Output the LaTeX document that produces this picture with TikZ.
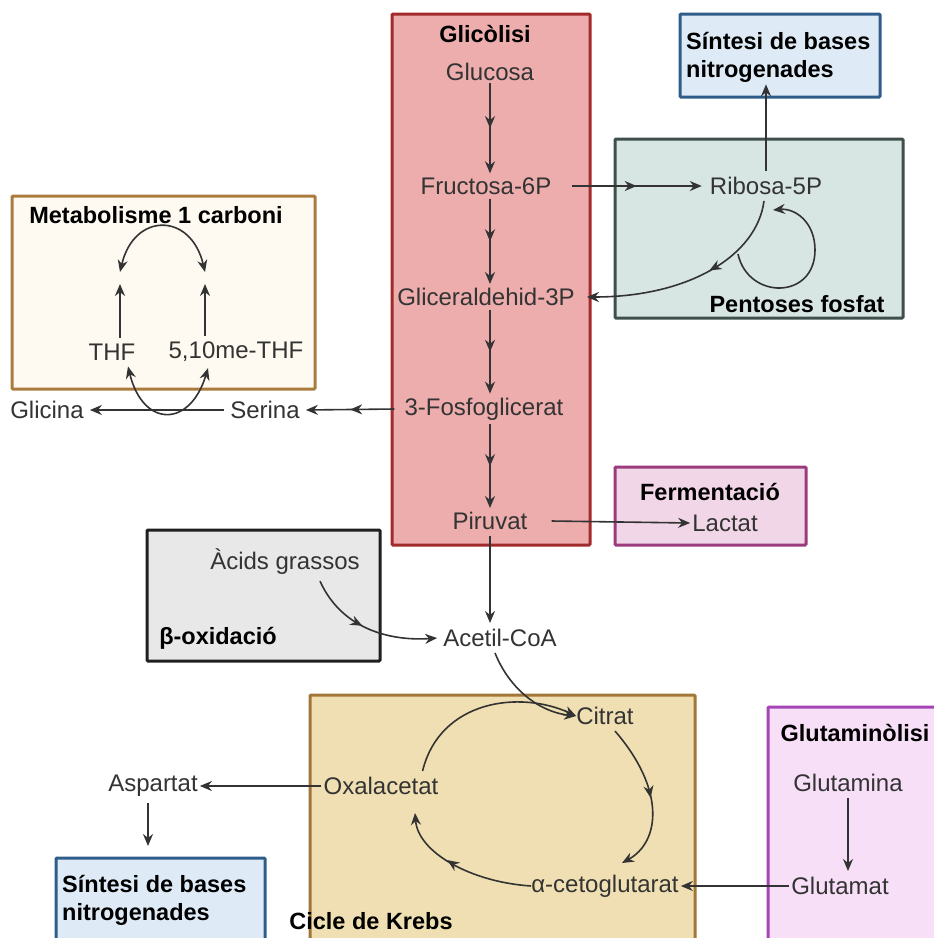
\documentclass[tikz,border=0pt]{standalone}
\usepackage{fontspec}
\setmainfont{Liberation Sans}
\usetikzlibrary{arrows.meta,decorations.markings}

\definecolor{ink}{HTML}{333333}
\definecolor{glycfill}{HTML}{EDADAD}\definecolor{glycline}{HTML}{A32A2A}
\definecolor{basefill}{HTML}{DEEBF7}\definecolor{baseline}{HTML}{2F5D8A}
\definecolor{pentfill}{HTML}{D7E6E3}\definecolor{pentline}{HTML}{3E4F4C}
\definecolor{metafill}{HTML}{FEFAF1}\definecolor{metaline}{HTML}{AA7B3C}
\definecolor{fermfill}{HTML}{F1D6E7}\definecolor{fermline}{HTML}{9B3B7E}
\definecolor{betafill}{HTML}{E8E8E8}\definecolor{betaline}{HTML}{1F1F1F}
\definecolor{krebfill}{HTML}{EFDFB2}\definecolor{krebline}{HTML}{A27636}
\definecolor{glutfill}{HTML}{F7DFF7}\definecolor{glutline}{HTML}{A544B5}

\tikzset{
  panel/.style 2 args={draw=#2, fill=#1, line width=3pt, rounded corners=1pt},
  lbl/.style={text=ink, font=\fontsize{24}{28}\selectfont, inner sep=6pt},
  ttl/.style={text=black, font=\fontsize{23.5}{28}\selectfont\bfseries, inner sep=2pt},
  tip/.tip={Stealth[length=12pt,width=10pt]},
  flow/.style={draw=ink, line width=1.6pt, -tip},
  twoway/.style={draw=ink, line width=1.6pt, tip-tip},
  midtip/.style={postaction={decorate}, decoration={markings,
      mark=at position #1 with {\arrow[ink]{tip}}}},
}

\begin{document}
\begin{tikzpicture}[x=1pt,y=-1pt]
\useasboundingbox (0,0) rectangle (934,938);
\begin{scope}
\clip (0,0) rectangle (934,938);

% ---- panels ----
\draw[panel={glycfill}{glycline}] (392,14) rectangle (590,545);
\draw[panel={basefill}{baseline}] (680,14) rectangle (880,97);
\draw[panel={pentfill}{pentline}] (615,139) rectangle (903,318);
\draw[panel={metafill}{metaline}] (12,196) rectangle (315,389);
\draw[panel={fermfill}{fermline}] (615,467) rectangle (806,545);
\draw[panel={betafill}{betaline}] (147,530) rectangle (380,661);
\draw[panel={krebfill}{krebline}] (310,695) rectangle (695,960);
\draw[panel={basefill}{baseline}] (56,858) rectangle (265,960);
\draw[panel={glutfill}{glutline}] (768,707) rectangle (960,960);

% ---- panel titles ----
\node[ttl] (tglyc) at (485,34) {Glicòlisi};
\node[ttl, align=left, anchor=west] (tbase1) at (684,57) {Síntesi de bases\\nitrogenades};
\node[ttl] (tpent) at (797,304) {Pentoses fosfat};
\node[ttl] (tmeta) at (156,215) {Metabolisme 1 carboni};
\node[ttl] (tferm) at (710,492) {Fermentació};
\node[ttl] (tbeta) at (218,638) {β-oxidació};
\node[ttl] (tkreb) at (371,921) {Cicle de Krebs};
\node[ttl, align=left, anchor=west] (tbase2) at (60,900) {Síntesi de bases\\nitrogenades};
\node[ttl] (tglut) at (855,733) {Glutaminòlisi};

% ---- metabolites ----
\node[lbl] (glc) at (490,72) {Glucosa};
\node[lbl] (f6p) at (486,186) {Fructosa-6P};
\node[lbl] (g3p) at (486,297) {Gliceraldehid-3P};
\node[lbl] (pga) at (484,409) {3-Fosfoglicerat};
\node[lbl] (pyr) at (490,521) {Piruvat};
\node[lbl] (r5p) at (766,186) {Ribosa-5P};
\node[lbl] (thf) at (112,352) {THF};
\node[lbl] (mthf) at (236,352) {5,10me-THF};
\node[lbl] (gly) at (47,410) {Glicina};
\node[lbl] (ser) at (265,410) {Serina};
\node[lbl] (lac) at (725,523) {Lactat};
\node[lbl] (fa) at (285,562) {Àcids grassos};
\node[lbl] (acoa) at (500,638) {Acetil-CoA};
\node[lbl] (cit) at (605,716) {Citrat};
\node[lbl] (oaa) at (381,786) {Oxalacetat};
\node[lbl] (akg) at (605,886) {α-cetoglutarat};
\node[lbl] (asp) at (153,786) {Aspartat};
\node[lbl] (gln) at (848,783) {Glutamina};
\node[lbl] (glu) at (840,886) {Glutamat};

% ---- glycolysis ----
\draw[flow, midtip=0.5] ([yshift=4pt]glc.south -| 490,0) -- ([yshift=-2pt]f6p.north -| 490,0);
\draw[flow, midtip=0.5] ([yshift=2pt]f6p.south -| 490,0) -- ([yshift=-2pt]g3p.north -| 490,0);
\draw[flow, midtip=0.5] ([yshift=2pt]g3p.south -| 490,0) -- ([yshift=-2pt]pga.north -| 490,0);
\draw[flow, midtip=0.5] ([yshift=2pt]pga.south -| 490,0) -- ([yshift=-2pt]pyr.north -| 490,0);
\draw[flow] (pyr.south -| 490,0) -- (acoa.north -| 490,0);

% ---- pentose phosphate ----
\draw[flow, midtip=0.5] ([xshift=14pt]f6p.east) -- ([xshift=-2pt]r5p.west);
\draw[flow] (r5p.north) -- (tbase1.south -| r5p.north);
\draw[flow, midtip=0.42] ([xshift=-2pt]r5p.south) .. controls (757,255) and (690,297) .. ([xshift=6pt]g3p.east);
\draw[flow] (738,254) .. controls (748,300) and (815,300) .. (815,250)
            .. controls (815,222) and (795,208) .. (773,210);

% ---- one-carbon metabolism ----
\draw[flow] (thf.north -| 120,0) -- (120,284);
\draw[flow] (mthf.north -| 205,0) -- (205,284);
\draw[twoway] (120,272) .. controls (134,212) and (191,212) .. (205,272);
\draw[flow, midtip=0.5] ([xshift=-4pt]pga.west) -- (ser.east);
\draw[flow] (ser.west) -- (gly.east);
\draw[twoway] (thf.south -| 128,0) .. controls (143,428) and (190,428) .. (mthf.south -| 208,0);

% ---- fermentation ----
\draw[flow] ([xshift=18pt]pyr.east) -- ([xshift=4pt]lac.west);

% ---- beta oxidation ----
\draw[flow, midtip=0.45] (fa.south -| 320,0) .. controls (343,632) and (395,641) .. (acoa.west);

% ---- Krebs cycle ----
\draw[flow] (acoa.south -| 495,0) .. controls (510,690) and (540,712) .. ([xshift=6pt]cit.west);
\draw[flow] ([xshift=-22pt]oaa.north east) .. controls (440,700) and (520,690) .. ([xshift=6pt]cit.west);
\draw[flow, midtip=0.5] ([xshift=10pt]cit.south) .. controls (666,790) and (660,842) .. (622,863);
\draw[flow, midtip=0.6] ([xshift=6pt]akg.west) .. controls (470,882) and (418,852) .. (415,813);
\draw[flow] ([xshift=4pt]oaa.west) -- ([xshift=-4pt]asp.east);
\draw[flow] (asp.south -| 148,0) -- (148,846);

% ---- glutaminolysis ----
\draw[flow] (gln.south -| 848,0) -- (glu.north -| 848,0);
\draw[flow] ([xshift=4pt]glu.west) -- ([xshift=-4pt]akg.east);
\end{scope}
\end{tikzpicture}
\end{document}
